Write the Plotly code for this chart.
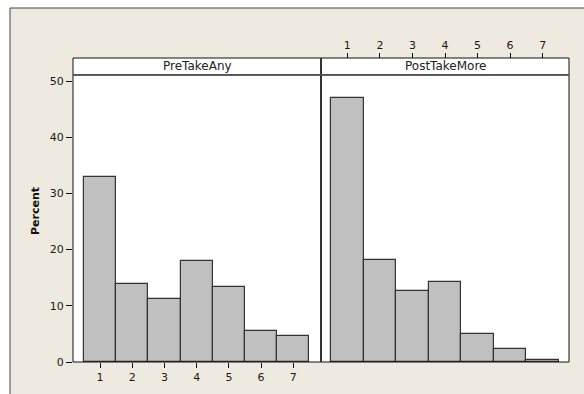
import plotly.graph_objects as go

W, H = 584, 394

categories = [1, 2, 3, 4, 5, 6, 7]
pre_take_any = [33.0, 13.9, 11.3, 18.0, 13.3, 5.6, 4.7]
post_take_more = [46.9, 18.2, 12.6, 14.3, 5.0, 2.3, 0.4]
panel_titles = ["PreTakeAny", "PostTakeMore"]
y_ticks = [0, 10, 20, 30, 40, 50]
y_title = "Percent"

def px(x):
    return x / W

def py(y):
    return 1 - y / H

L, MID, R = 73, 321, 569
TOP, BOT, STRIP_TOP = 75, 362, 58

font = dict(family="DejaVu Sans", size=11, color="#1a1a1a")
bar_style = dict(color="#C0C0C0", line=dict(color="#333333", width=1.2))

fig = go.Figure()
fig.add_trace(go.Bar(x=categories, y=pre_take_any, width=1, marker=bar_style,
                     xaxis="x", yaxis="y", showlegend=False))
fig.add_trace(go.Bar(x=categories, y=post_take_more, width=1, marker=bar_style,
                     xaxis="x2", yaxis="y", showlegend=False))

shapes = [
    dict(type="rect", xref="paper", yref="paper", x0=px(10), x1=px(600), y0=py(410), y1=py(8),
         fillcolor="#EEEAE0", line=dict(color="#444444", width=1), layer="below"),
    dict(type="rect", xref="paper", yref="paper", x0=px(L), x1=px(R), y0=py(TOP), y1=py(STRIP_TOP),
         fillcolor="white", line=dict(color="#111111", width=1), layer="below"),
    dict(type="rect", xref="paper", yref="paper", x0=px(L), x1=px(R), y0=py(BOT), y1=py(TOP),
         fillcolor="white", line=dict(width=0), layer="below"),
    dict(type="rect", xref="paper", yref="paper", x0=px(L), x1=px(R), y0=py(BOT), y1=py(TOP),
         line=dict(color="#111111", width=1), fillcolor="rgba(0,0,0,0)", layer="above"),
    dict(type="line", xref="paper", yref="paper", x0=px(MID), x1=px(MID), y0=py(BOT), y1=py(STRIP_TOP),
         line=dict(color="#333333", width=2)),
    dict(type="line", xref="paper", yref="paper", x0=px(L), x1=px(R), y0=py(TOP), y1=py(TOP),
         line=dict(color="#555555", width=1.5)),
]

annotations = [
    dict(text=panel_titles[0], xref="paper", yref="paper", x=px((L + MID) / 2), y=py((STRIP_TOP + TOP) / 2),
         showarrow=False, font=dict(family="DejaVu Sans", size=12, color="#222222"),
         xanchor="center", yanchor="middle"),
    dict(text=panel_titles[1], xref="paper", yref="paper", x=px((MID + R) / 2), y=py((STRIP_TOP + TOP) / 2),
         showarrow=False, font=dict(family="DejaVu Sans", size=12, color="#222222"),
         xanchor="center", yanchor="middle"),
    dict(text="<b>" + y_title + "</b>", xref="paper", yref="paper", x=px(35), y=py(211),
         showarrow=False, textangle=-90, font=dict(family="DejaVu Sans", size=11, color="#111111"),
         xanchor="center", yanchor="middle"),
]

fig.update_layout(
    width=W, height=H, autosize=False,
    margin=dict(l=0, r=0, t=0, b=0, pad=0, autoexpand=False),
    paper_bgcolor="white",
    plot_bgcolor="rgba(0,0,0,0)",
    bargap=0,
    shapes=shapes,
    annotations=annotations,
    font=font,
    xaxis=dict(domain=[px(L), px(MID)], range=[0.16, 7.86], tickvals=categories,
               ticks="outside", ticklen=5, tickcolor="#111111", showgrid=False, zeroline=False,
               showline=False, anchor="y", fixedrange=True, automargin=False),
    xaxis2=dict(domain=[px(MID), px(R)], range=[0.19, 7.81], tickvals=categories,
                ticks="outside", ticklen=5, tickcolor="#111111", showgrid=False, zeroline=False,
                showline=False, side="top", anchor="free", position=py(STRIP_TOP), fixedrange=True,
                automargin=False),
    yaxis=dict(domain=[py(BOT), py(TOP)], range=[0, 51.07], tickvals=y_ticks,
               ticks="outside", ticklen=6, tickcolor="#111111", showgrid=False, zeroline=False,
               showline=False, fixedrange=True, automargin=False),
)

fig.write_html("out.html", config={"displayModeBar": False, "responsive": False},
               post_script="document.body.style.margin='0';document.body.style.overflow='hidden';")
